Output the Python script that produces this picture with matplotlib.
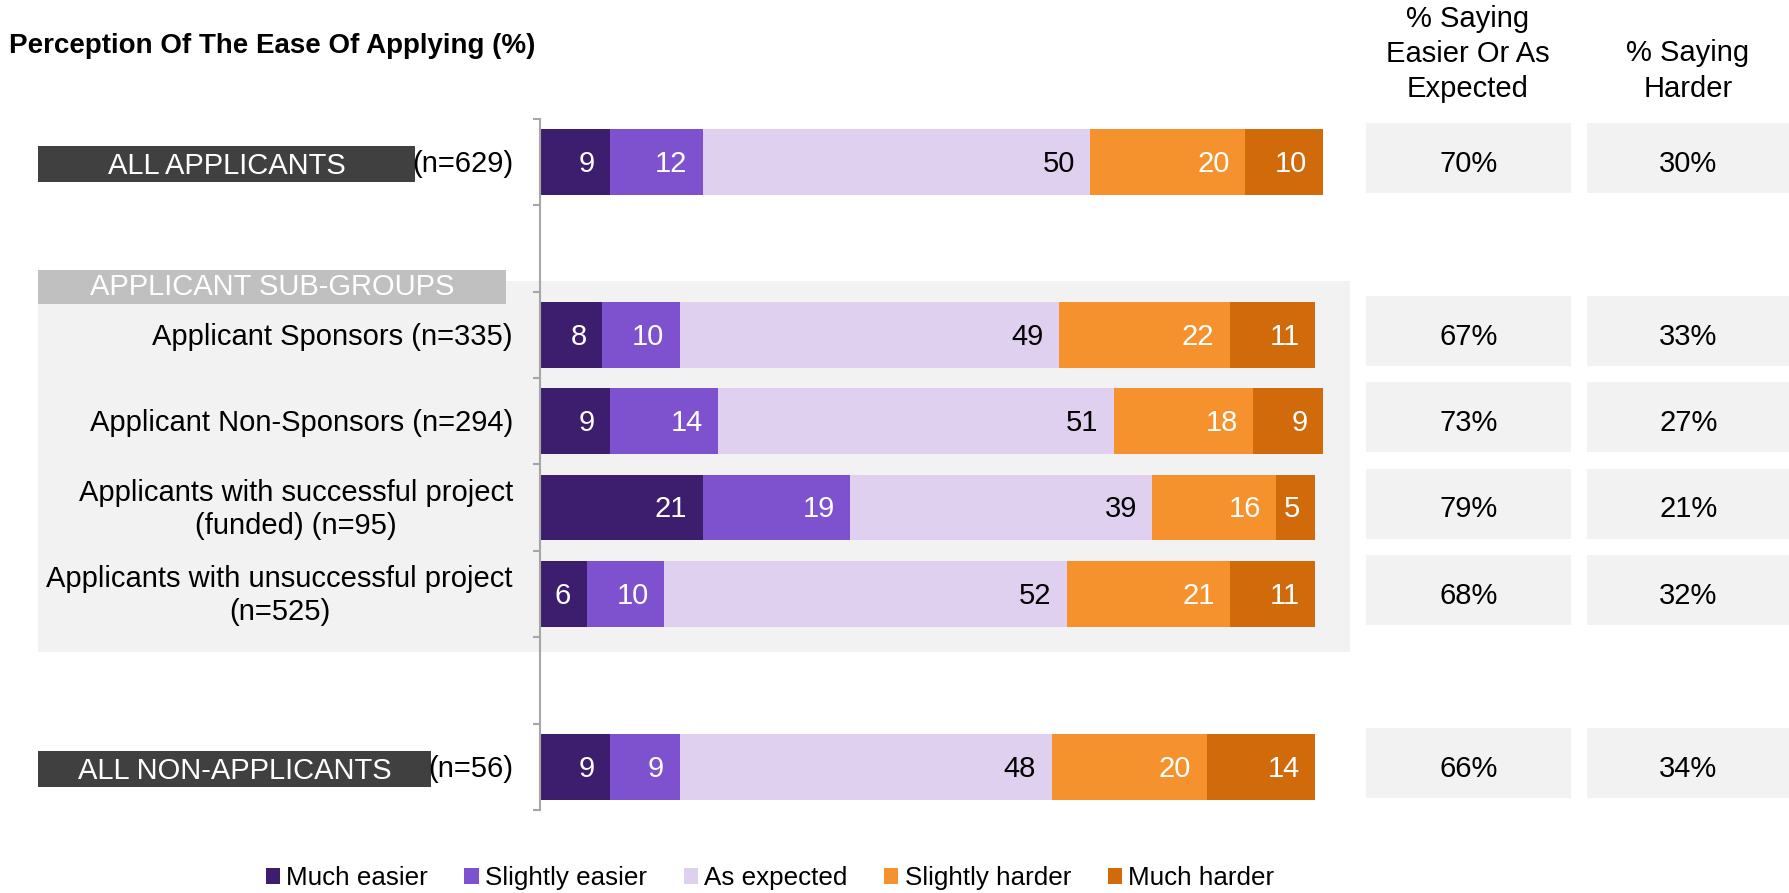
import matplotlib
matplotlib.use("Agg")
import matplotlib.pyplot as plt
import matplotlib.transforms as mtransforms
from matplotlib.patches import Rectangle

# --- data ---
groups = ["ALL APPLICANTS", "Applicant Sponsors", "Applicant Non-Sponsors",
          "Applicants with successful project (funded)",
          "Applicants with unsuccessful project", "ALL NON-APPLICANTS"]
group_labels = ["(n=629)", "Applicant Sponsors (n=335)", "Applicant Non-Sponsors (n=294)",
                "Applicants with successful project\n(funded) (n=95)",
                "Applicants with unsuccessful project\n(n=525)", "(n=56)"]
rows = [0, 2, 3, 4, 5, 7]

categories = ["Much easier", "Slightly easier", "As expected", "Slightly harder", "Much harder"]
much_easier = [9, 8, 9, 21, 6, 9]
slightly_easier = [12, 10, 14, 19, 10, 9]
as_expected = [50, 49, 51, 39, 52, 48]
slightly_harder = [20, 22, 18, 16, 21, 20]
much_harder = [10, 11, 9, 5, 11, 14]

pct_easier = [70, 67, 73, 79, 68, 66]
pct_harder = [30, 33, 27, 21, 32, 34]

colors = ["#3d1e6e", "#7e52cf", "#e0d0f0", "#f6922e", "#d06a0a"]
text_colors = ["white", "white", "black", "white", "white"]

plt.rcParams['font.family'] = ['Liberation Sans', 'DejaVu Sans']

W, H = 1790, 893
fig = plt.figure(figsize=(W / 100, H / 100), dpi=100)

def fx(px):
    return px / W

def fy(py):
    return 1 - py / H

# bar axes (101 units so the 101% rows fit)
ax = fig.add_axes([fx(540), fy(810), fx(783), fy(118.8) - fy(810)])
ax.set_facecolor("none")

series = [much_easier, slightly_easier, as_expected, slightly_harder, much_harder]
left = [0] * len(rows)
for vals, col, tcol, name in zip(series, colors, text_colors, categories):
    ax.barh(rows, vals, left=left, height=0.76, color=col, label=name, linewidth=0)
    for r, v, l in zip(rows, vals, left):
        ax.text(l + v - 2.0, r + 0.02, str(v), ha="right", va="center", color=tcol, fontsize=21)
    left = [a + b for a, b in zip(left, vals)]

ax.set_xlim(0, 101)
ax.set_ylim(7.5, -0.5)
ax.set_xticks([])
ax.set_yticks([y - 0.5 for y in range(9)])
ax.set_yticklabels([])
ax.tick_params(axis="y", direction="out", length=5, width=1.5, color="#a6a6a6")
for s in ["top", "right", "bottom"]:
    ax.spines[s].set_visible(False)
ax.spines["left"].set_color("#a6a6a6")
ax.spines["left"].set_linewidth(1.5)

trans = mtransforms.blended_transform_factory(fig.transFigure, ax.transData)
row_px = 86.4

# sub-group panel
fig.add_artist(Rectangle((fx(38), 1.377), fx(1350) - fx(38), 5.67 - 1.377,
                         transform=trans, facecolor="#f2f2f2", edgecolor="none", zorder=-1))
fig.add_artist(Rectangle((fx(38), 1.25), fx(506) - fx(38), 34 / row_px,
                         transform=trans, facecolor="#c0c0c0", edgecolor="none", zorder=1))
fig.text(fx(272), 1.25 + 17 / row_px, "APPLICANT SUB-GROUPS", transform=trans,
         ha="center", va="center", color="white", fontsize=21)

# dark header boxes for totals
for r, name, x1 in [(0, groups[0], 415), (7, groups[5], 431)]:
    fig.add_artist(Rectangle((fx(38), r - 16 / row_px), fx(x1) - fx(38), 36 / row_px,
                             transform=trans, facecolor="#404040", edgecolor="none", zorder=1))
    fig.text((fx(38) + fx(x1)) / 2, r + 4 / row_px, name, transform=trans,
             ha="center", va="center", color="white", fontsize=21)

# left labels
for r, lab in zip(rows, group_labels):
    fig.text(fx(513), r + 0.02, lab, transform=trans, ha="right", va="center",
             multialignment="center", fontsize=21, linespacing=1.25)

# right columns
for r, e, h in zip(rows, pct_easier, pct_harder):
    for x0, x1, v in [(1366, 1571, e), (1587, 1790, h)]:
        fig.add_artist(Rectangle((fx(x0), r - 0.45), fx(x1) - fx(x0), 0.81,
                                 transform=trans, facecolor="#f2f2f2", edgecolor="none", zorder=-1))
        fig.text((fx(x0) + fx(x1)) / 2, r + 0.02, f"{v}%", transform=trans,
                 ha="center", va="center", fontsize=21)

fig.text(fx(1468), fy(54), "% Saying\nEasier Or As\nExpected", ha="center", va="center",
         fontsize=21, linespacing=1.32)
fig.text(fx(1688), fy(71), "% Saying\nHarder", ha="center", va="center",
         fontsize=21, linespacing=1.32)

fig.text(fx(9), fy(46), "Perception Of The Ease Of Applying (%)", ha="left", va="center",
         fontsize=20, fontweight="bold")

fig.legend(loc="center", bbox_to_anchor=(fx(770), fy(878)), ncol=5, frameon=False,
           fontsize=18.7, handlelength=0.55, handleheight=0.55, handletextpad=0.25,
           columnspacing=1.4)

fig.savefig("out.png", dpi=100)
